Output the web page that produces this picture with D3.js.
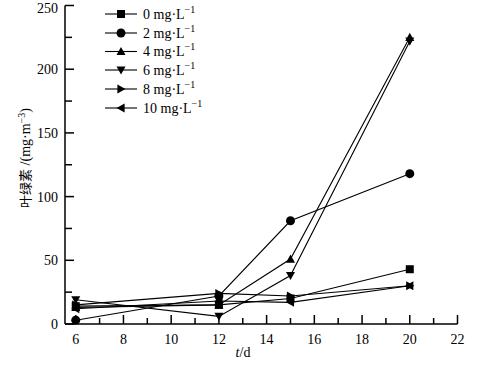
<!DOCTYPE html>
<html><head><meta charset="utf-8">
<script src="https://cdn.jsdelivr.net/npm/d3@7"></script>
<style>body{margin:0;background:#fff}svg{display:block}text{font-family:"Liberation Serif","Times New Roman",serif;fill:#000}</style>
</head><body><svg id="c" width="480" height="367"></svg>
<script>
const days = [6, 12, 15, 20];
const seriesNames = ["0", "2", "4", "6", "8", "10"];
const s0 = [14, 15, 20, 43];
const s2 = [3, 22, 81, 118];
const s4 = [13, 15, 51, 225];
const s6 = [19, 6, 38, 222];
const s8 = [15, 24, 22, 30];
const s10 = [12, 18, 17, 30];
const yTicks = [0, 50, 100, 150, 200, 250];
const xTicks = [6, 8, 10, 12, 14, 16, 18, 20, 22];
const seriesValues = [s0, s2, s4, s6, s8, s10];
const markerTypes = ["square", "circle", "up", "down", "right", "left"];

const svg = d3.select("#c");
const x = d3.scaleLinear().domain([5.55, 22]).range([65, 457.5]);
const y = d3.scaleLinear().domain([0, 250]).range([324, 5.5]);

// axes
const gx = svg.append("g").attr("transform", "translate(0,324)");
gx.append("line").attr("x1", 65).attr("x2", x(22)).attr("stroke", "#000").attr("stroke-width", 1.5);
d3.range(6, 23, 1).forEach(v => {
  const major = v % 2 === 0;
  gx.append("line").attr("x1", x(v)).attr("x2", x(v)).attr("y1", 0).attr("y2", major ? -9 : -6).attr("stroke", "#000").attr("stroke-width", 1.5);
});
xTicks.forEach(v => {
  gx.append("text").attr("x", x(v)).attr("y", 20).attr("text-anchor", "middle").attr("font-size", 14).text(v);
});
const gy = svg.append("g").attr("transform", "translate(65,0)");
gy.append("line").attr("y1", y(0)).attr("y2", y(250)).attr("stroke", "#000").attr("stroke-width", 1.5);
d3.range(0, 251, 25).forEach(v => {
  const major = v % 50 === 0;
  gy.append("line").attr("y1", y(v)).attr("y2", y(v)).attr("x1", 0).attr("x2", major ? 9 : 7).attr("stroke", "#000").attr("stroke-width", 1.5);
});
yTicks.forEach(v => {
  gy.append("text").attr("x", -7).attr("y", Math.max(y(v), 8)).attr("dy", "0.35em").attr("text-anchor", "end").attr("font-size", 14).text(v);
});

// axis labels
const xl = svg.append("text").attr("x", 243).attr("y", 357).attr("text-anchor", "middle").attr("font-size", 14);
xl.append("tspan").attr("font-style", "italic").text("t");
xl.append("tspan").text("/d");
const yl = svg.append("text").attr("transform", "translate(30,158) rotate(-90)").attr("text-anchor", "middle").attr("font-size", 14);
yl.append("tspan").attr("font-family", "Noto Sans CJK SC").attr("font-size", 13).text("叶绿素");
yl.append("tspan").text(" /(mg·m");
yl.append("tspan").attr("font-size", 10).attr("dy", -5).text("−3");
yl.append("tspan").attr("dy", 5).text(")");

function marker(g, type, cx, cy) {
  const s = 4.5;
  let el;
  if (type === "square") el = g.append("rect").attr("x", cx - 4).attr("y", cy - 4).attr("width", 8).attr("height", 8);
  else if (type === "circle") el = g.append("circle").attr("cx", cx).attr("cy", cy).attr("r", 4.5);
  else {
    let pts;
    if (type === "up") pts = [[0, -s], [s, s * 0.8], [-s, s * 0.8]];
    if (type === "down") pts = [[0, s], [s, -s * 0.8], [-s, -s * 0.8]];
    if (type === "right") pts = [[s, 0], [-s * 0.8, -s], [-s * 0.8, s]];
    if (type === "left") pts = [[-s, 0], [s * 0.8, -s], [s * 0.8, s]];
    el = g.append("polygon").attr("points", pts.map(p => (cx + p[0]) + "," + (cy + p[1])).join(" "));
  }
  el.attr("fill", "#000");
}

const line = d3.line().x((d, i) => x(days[i])).y(d => y(d));
const plot = svg.append("g");
seriesValues.forEach((vals, k) => {
  plot.append("path").attr("d", line(vals)).attr("fill", "none").attr("stroke", "#000").attr("stroke-width", 1.1);
});
seriesValues.forEach((vals, k) => {
  vals.forEach((v, i) => marker(plot, markerTypes[k], x(days[i]), y(v)));
});

// legend
const legY = [14, 33, 51.5, 70, 89, 108];
const leg = svg.append("g");
seriesNames.forEach((n, k) => {
  const ly = legY[k];
  leg.append("line").attr("x1", 105).attr("x2", 137).attr("y1", ly).attr("y2", ly).attr("stroke", "#000").attr("stroke-width", 1.1);
  marker(leg, markerTypes[k], 121, ly);
  const t = leg.append("text").attr("x", 143).attr("y", ly).attr("dy", "0.35em").attr("font-size", 14);
  t.append("tspan").text(n + " mg·L");
  t.append("tspan").attr("font-size", 10).attr("dy", -6).text("−1");
});
</script></body></html>
